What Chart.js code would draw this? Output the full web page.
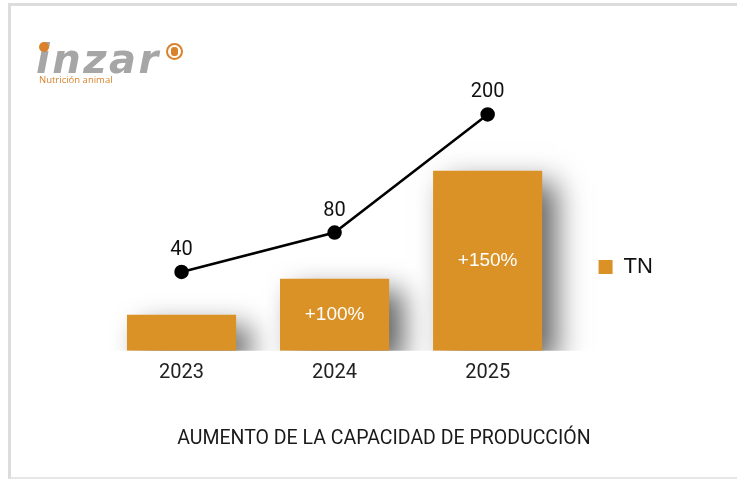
<!DOCTYPE html>
<html><head><meta charset="utf-8">
<script src="https://cdn.jsdelivr.net/npm/chart.js@4/dist/chart.umd.min.js"></script>
<style>
html,body{margin:0;padding:0;background:#fff;}
#wrap{position:relative;width:737px;height:479px;overflow:hidden;background:#fff;}
#c{position:absolute;left:0;top:0;}
#frame{position:absolute;left:8px;top:3px;width:800px;height:476px;border-top:3px solid #dcdcdc;border-left:3px solid #dcdcdc;border-bottom:2px solid #e6e6e6;box-sizing:border-box;pointer-events:none;}
.brand{position:absolute;left:36px;top:39px;font:italic bold 40px "DejaVu Sans",sans-serif;line-height:40px;color:#a6a6a6;letter-spacing:2.5px;white-space:nowrap;}
.dot{position:absolute;left:39px;top:42px;width:10px;height:10px;border-radius:50%;background:#d9822b;}
.mark{position:absolute;left:166px;top:43px;width:13px;height:13px;border-radius:50%;border:2px solid #d9822b;background:#fff;}
.mark::after{content:"";position:absolute;left:3px;top:2px;width:7px;height:9px;border-radius:3px;background:#d9822b;}
.sub{position:absolute;left:39px;top:73px;font:9.5px "Open Sans",sans-serif;color:#d9822b;white-space:nowrap;}
</style>
</head><body>
<div id="wrap">
<canvas id="c" width="737" height="479"></canvas>
<div id="frame"></div>
<span class="brand">inzar</span><span class="dot"></span><span class="mark"></span>
<span class="sub">Nutrición animal</span>
</div>
<script>
const categories = ['2023', '2024', '2025'];
const tnValues = [40, 80, 200];
const lineValues = [40, 80, 200];
const growthLabels = ['', '+100%', '+150%'];
const seriesName = 'TN';
const chartTitle = 'AUMENTO DE LA CAPACIDAD DE PRODUCCIÓN';

const shadowPlugin = {
  id: 'barShadow',
  beforeDatasetDraw(chart, args) {
    if (args.meta.type === 'bar') {
      const c = chart.ctx;
      c.save();
      c.shadowColor = 'rgba(0,0,0,0.62)';
      c.shadowBlur = 28;
      c.shadowOffsetX = 14;
      c.shadowOffsetY = 12;
    }
  },
  afterDatasetDraw(chart, args) {
    if (args.meta.type === 'bar') chart.ctx.restore();
  }
};

const labelPlugin = {
  id: 'valueLabels',
  afterDatasetsDraw(chart) {
    const ctx = chart.ctx;
    ctx.save();
    ctx.textAlign = 'center';
    ctx.textBaseline = 'middle';
    const barMeta = chart.getDatasetMeta(1);
    ctx.font = '19px "Liberation Sans", Arial, sans-serif';
    ctx.fillStyle = '#ffffff';
    barMeta.data.forEach((bar, i) => {
      if (growthLabels[i]) ctx.fillText(growthLabels[i], bar.x, (bar.y + bar.base) / 2);
    });
    const lineMeta = chart.getDatasetMeta(0);
    ctx.font = '20px Roboto, sans-serif';
    ctx.fillStyle = '#111111';
    lineMeta.data.forEach((pt, i) => {
      ctx.fillText(String(lineValues[i]), pt.x, pt.y - 22);
    });
    ctx.restore();
  }
};

new Chart(document.getElementById('c'), {
  data: {
    labels: categories,
    datasets: [
      {
        type: 'line',
        label: 'Tendencia',
        data: lineValues,
        yAxisID: 'y1',
        borderColor: '#000000',
        borderWidth: 2.5,
        pointRadius: 6,
        pointBackgroundColor: '#000000',
        pointBorderColor: '#000000',
        tension: 0,
        order: 0,
        clip: false
      },
      {
        type: 'bar',
        label: seriesName,
        data: tnValues,
        yAxisID: 'y',
        backgroundColor: '#DA9125',
        borderWidth: 0,
        barPercentage: 0.713,
        categoryPercentage: 1,
        order: 1,
        clip: {left: false, top: false, right: false, bottom: 0}
      }
    ]
  },
  options: {
    responsive: false,
    animation: false,
    events: [],
    layout: {padding: {top: 75, bottom: 20, left: 105, right: 74.1}},
    scales: {
      x: {
        grid: {display: false, drawTicks: false},
        border: {display: false},
        ticks: {font: {family: 'Roboto', size: 20}, color: '#222222', padding: 10.5}
      },
      y: {display: false, min: 0, max: 306.6},
      y1: {display: false, min: -40, max: 240}
    },
    plugins: {
      legend: {
        position: 'right',
        align: 'center',
        labels: {
          boxWidth: 14,
          boxHeight: 14,
          padding: 34.4,
          color: '#111111',
          font: {family: '"Liberation Sans", Arial, sans-serif', size: 22},
          filter: (item) => item.datasetIndex === 1
        }
      },
      title: {
        display: true,
        position: 'bottom',
        text: chartTitle,
        color: '#1a1a1a',
        font: {family: 'Roboto', size: 19.5, weight: 'normal'},
        padding: {top: 31.7, bottom: 8.2}
      },
      tooltip: {enabled: false}
    }
  },
  plugins: [shadowPlugin, labelPlugin]
});
</script>
</body></html>
